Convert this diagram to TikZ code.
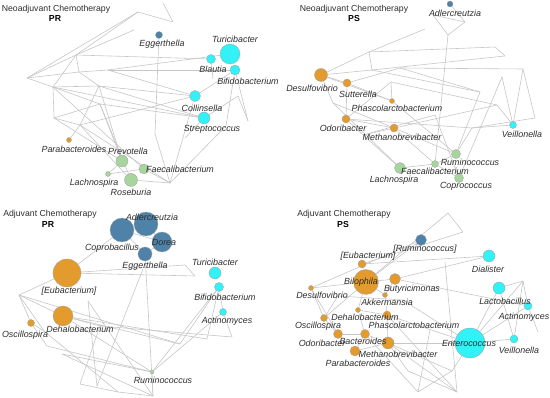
\documentclass[tikz,border=0pt]{standalone}
\usepackage{fontspec}
\setmainfont{Liberation Sans}
\usepackage{xcolor}
\usepackage{tikz}
\usetikzlibrary{positioning,backgrounds}

\definecolor{dkblue}{RGB}{78,130,168}
\definecolor{ochre}{RGB}{228,155,45}
\definecolor{aqua}{RGB}{50,242,248}
\definecolor{sage}{RGB}{168,212,158}
\definecolor{ink}{RGB}{45,45,45}

\begin{document}
\begin{tikzpicture}[x=1pt, y=-1pt,
  edge/.style={draw=gray!45, line width=0.6pt},
  bug/.style={circle, draw=gray!75, line width=0.3pt, inner sep=0pt},
  blu/.style={bug, fill=dkblue},
  org/.style={bug, fill=ochre},
  cya/.style={bug, fill=aqua},
  grn/.style={bug, fill=sage},
  lab/.style={font=\fontsize{8.9}{9}\selectfont\itshape, text=ink, inner sep=0pt},
  ttl/.style={font=\fontsize{8.7}{9}\selectfont, text=ink, inner sep=0pt},
  grp/.style={font=\fontsize{8.7}{9}\selectfont\bfseries, text=black, inner sep=0pt}]
\useasboundingbox (0,0) rectangle (550,398);

% titles
\node[ttl] (t1) at (56,9) {Neoadjuvant Chemotherapy};
\node[grp] (g1) at (55,19) {PR};
\node[ttl] (t2) at (354,9) {Neoadjuvant Chemotherapy};
\node[grp] (g2) at (354,19) {PS};
\node[ttl] (t3) at (50,214) {Adjuvant Chemotherapy};
\node[grp] (g3) at (48,225) {PR};
\node[ttl] (t4) at (344,214) {Adjuvant Chemotherapy};
\node[grp] (g4) at (343,225) {PS};

% neoadjuvant PR
\node[blu, minimum size=7pt] (aEgg) at (159,35) {};
\node[cya, minimum size=20pt] (aTur) at (230,54) {};
\node[cya, minimum size=9pt] (aBla) at (211,59) {};
\node[cya, minimum size=10pt] (aBif) at (235,70) {};
\node[cya, minimum size=11pt] (aCol) at (195,96) {};
\node[cya, minimum size=12pt] (aStr) at (204,118) {};
\node[org, minimum size=5pt] (aPar) at (69,140) {};
\node[grn, minimum size=12pt] (aPre) at (122,161) {};
\node[grn, minimum size=10pt] (aFae) at (144,169) {};
\node[grn, minimum size=5pt] (aLac) at (108,174) {};
\node[grn, minimum size=13pt] (aRos) at (131,180) {};
\foreach \n/\p in {a1/{138,12}, a2/{173,22}, a3/{163,3}, a4/{76,55}, a5/{27,78},
  a6/{53,87}, a7/{79,72}, a8/{134,30}, a9/{99,86}, a10/{54,118}, a11/{100,104},
  a12/{80,125}, a13/{108,70}, a14/{170,183}, a15/{238,96}, a16/{248,121},
  a17/{226,126}, a18/{213,79}, a19/{155,134}, a20/{185,138}}
  \coordinate (\n) at (\p);

\node[lab] (aEggL) at (162,44) {Eggerthella};
\node[lab] (aTurL) at (235,39) {Turicibacter};
\node[lab] (aBlaL) at (213,69) {Blautia};
\node[lab] (aBifL) at (248,81) {Bifidobacterium};
\node[lab] (aColL) at (202,108) {Collinsella};
\node[lab] (aStrL) at (212,129) {Streptococcus};
\node[lab] (aParL) at (74,149) {Parabacteroides};
\node[lab] (aPreL) at (128,151) {Prevotella};
\node[lab] (aFaeL) at (180,169) {Faecalibacterium};
\node[lab] (aLacL) at (94,183) {Lachnospira};
\node[lab] (aRosL) at (131,192) {Roseburia};

% neoadjuvant PS
\node[blu, minimum size=6pt] (bAdl) at (450,4) {};
\node[org, minimum size=13pt] (bDes) at (321,75) {};
\node[org, minimum size=8pt] (bSut) at (347,83) {};
\node[org, minimum size=5pt] (bPha) at (392,101) {};
\node[org, minimum size=8pt] (bOdo) at (346,119) {};
\node[org, minimum size=8pt] (bMet) at (394,128) {};
\node[cya, minimum size=7pt] (bVei) at (513,125) {};
\node[grn, minimum size=9pt] (bRum) at (456,154) {};
\node[grn, minimum size=7pt] (bFae) at (435,164) {};
\node[grn, minimum size=11pt] (bLac) at (400,168) {};
\node[grn, minimum size=9pt] (bCop) at (459,178) {};
\foreach \n/\p in {b1/{369,52}, b2/{372,70}, b3/{425,29}, b4/{433,15}, b5/{465,22},
  b6/{448,35}, b7/{495,47}, b8/{505,56}, b9/{400,68}, b10/{523,69}, b11/{502,77},
  b12/{535,118}, b13/{472,128}, b14/{333,103}, b15/{363,135}, b16/{391,82},
  b17/{480,92}, b18/{497,105}, b20/{435,115}}
  \coordinate (\n) at (\p);

\node[lab] (bAdlL) at (455,13) {Adlercreutzia};
\node[lab] (bDesL) at (312,88) {Desulfovibrio};
\node[lab] (bSutL) at (358,94) {Sutterella};
\node[lab] (bPhaL) at (397,108) {Phascolarctobacterium};
\node[lab] (bOdoL) at (343,128) {Odoribacter};
\node[lab] (bMetL) at (402,137) {Methanobrevibacter};
\node[lab] (bVeiL) at (522,134) {Veillonella};
\node[lab] (bRumL) at (470,162) {Ruminococcus};
\node[lab] (bFaeL) at (435,171) {Faecalibacterium};
\node[lab] (bLacL) at (394,180) {Lachnospira};
\node[lab] (bCopL) at (466,186) {Coprococcus};

% adjuvant PR
\node[blu, minimum size=24pt] (cCop) at (122,230) {};
\node[blu, minimum size=24pt] (cAdl) at (146,224) {};
\node[blu, minimum size=20pt] (cDor) at (162,242) {};
\node[blu, minimum size=14pt] (cEgg) at (145,254) {};
\node[org, minimum size=28pt] (cEub) at (67,273) {};
\node[org, minimum size=20pt] (cDeh) at (63,316) {};
\node[org, minimum size=7pt] (cOsc) at (31,323) {};
\node[cya, minimum size=12pt] (cTur) at (215,273) {};
\node[cya, minimum size=9pt] (cBif) at (219,287) {};
\node[cya, minimum size=7pt] (cAct) at (223,312) {};
\node[grn, minimum size=4pt] (cRum) at (152,372) {};
\foreach \n/\p in {c1/{19,295}, c2/{195,276}, c3/{185,265}, c4/{44,331}, c5/{88,301},
  c6/{100,326}, c7/{62,354}, c8/{207,339}, c9/{232,337}, c10/{180,344},
  c11/{153,396}, c12/{118,392}, c13/{143,269}, c14/{80,384}, c15/{97,386},
  c16/{47,346}}
  \coordinate (\n) at (\p);

\node[lab] (cAdlL) at (152,217) {Adlercreutzia};
\node[lab] (cCopL) at (112,248) {Coprobacillus};
\node[lab] (cDorL) at (164,242) {Dorea};
\node[lab] (cEggL) at (145,266) {Eggerthella};
\node[lab] (cEubL) at (69,291) {[Eubacterium]};
\node[lab] (cDehL) at (80,329) {Dehalobacterium};
\node[lab] (cOscL) at (25,335) {Oscillospira};
\node[lab] (cTurL) at (215,262) {Turicibacter};
\node[lab] (cBifL) at (225,297) {Bifidobacterium};
\node[lab] (cActL) at (227,321) {Actinomyces};
\node[lab] (cRumL) at (163,380) {Ruminococcus};

% adjuvant PS
\node[blu, minimum size=11pt] (dRum) at (421,240) {};
\node[org, minimum size=8pt] (dEub) at (362,264) {};
\node[org, minimum size=25pt] (dBil) at (366,282) {};
\node[org, minimum size=11pt] (dBut) at (395,279) {};
\node[org, minimum size=5pt] (dDes) at (311,288) {};
\node[org, minimum size=5pt] (dAkk) at (385,295) {};
\node[org, minimum size=5pt] (dDeh) at (358,310) {};
\node[org, minimum size=8pt] (dPha) at (387,315) {};
\node[org, minimum size=7pt] (dOsc) at (324,318) {};
\node[org, minimum size=9pt] (dOdo) at (338,334) {};
\node[org, minimum size=9pt] (dBac) at (365,334) {};
\node[org, minimum size=12pt] (dMet) at (388,343) {};
\node[org, minimum size=10pt] (dPar) at (355,351) {};
\node[cya, minimum size=12pt] (dDia) at (489,256) {};
\node[cya, minimum size=12pt] (dLac) at (499,288) {};
\node[cya, minimum size=8pt] (dAct) at (528,306) {};
\node[cya, minimum size=30pt] (dEnt) at (470,343) {};
\node[cya, minimum size=8pt] (dVei) at (514,339) {};
\foreach \n/\p in {d1/{448,213}, d2/{463,232}, d3/{523,281}, d4/{538,332},
  d5/{457,392}, d6/{418,392}, d7/{452,371}, d8/{408,371}, d9/{338,296},
  d10/{445,262}, d11/{430,330}, d12/{403,300}}
  \coordinate (\n) at (\p);

\node[lab] (dRumL) at (425,249) {[Ruminococcus]};
\node[lab] (dEubL) at (368,256) {[Eubacterium]};
\node[lab] (dBilL) at (361,282) {Bilophila};
\node[lab] (dButL) at (412,289) {Butyricimonas};
\node[lab] (dDesL) at (322,295) {Desulfovibrio};
\node[lab] (dAkkL) at (387,302) {Akkermansia};
\node[lab] (dDehL) at (365,317) {Dehalobacterium};
\node[lab] (dPhaL) at (414,325) {Phascolarctobacterium};
\node[lab] (dOscL) at (318,326) {Oscillospira};
\node[lab] (dOdoL) at (322,343) {Odoribacter};
\node[lab] (dBacL) at (363,341) {Bacteroides};
\node[lab] (dMetL) at (398,354) {Methanobrevibacter};
\node[lab] (dParL) at (358,363) {Parabacteroides};
\node[lab] (dDiaL) at (488,269) {Dialister};
\node[lab] (dLacL) at (505,301) {Lactobacillus};
\node[lab] (dActL) at (524,317) {Actinomyces};
\node[lab] (dEntL) at (469,343) {Enterococcus};
\node[lab] (dVeiL) at (519,350) {Veillonella};

% co-occurrence edges
\begin{pgfonlayer}{background}
\foreach \u/\v in {a5/a1, a1/a2, a2/a3, a5/a4, a4/a8, a4/a6, a4/a7, a5/a7, a5/a6,
  a6/a10, a6/a9, a6/a11, a10/a11, a10/a12, a7/a9, a4/aBla, a13/aTur, a13/aCol,
  a9/aCol, a6/aStr, a11/aStr, aPar/a12, aPre/a11, aPre/a9, aRos/a12, aLac/aFae,
  aLac/aPre, aFae/a14, aRos/a14, a14/aCol, a20/aStr, aEgg/a19, a19/a14,
  aBif/a17, aBif/a16, aStr/a15, a15/a16, aBla/a18, aCol/aBif, a6/aFae,
  a12/a14, a11/aRos, a9/a12, a7/a13, a1/a4, a10/aPre, a13/aBif, a9/aStr,
  a12/aCol, a17/a14}
  \draw[edge] (\u) -- (\v);
\foreach \u/\v in {bDes/b1, bDes/b2, b1/b2, b1/b3, b1/b7, b7/b8, b8/b2, b4/b5,
  b4/b6, b5/b6, bAdl/b5, b6/bFae, bDes/bSut, bDes/bPha, bSut/bPha, bSut/bOdo,
  bSut/b9, bOdo/bMet, bOdo/b16, bDes/b14, b14/bMet, b15/bOdo, b15/b20,
  bPha/b16, bMet/bRum, bMet/bFae, bPha/bRum, bLac/b15, bLac/bFae, bFae/bRum,
  bFae/bCop, bRum/b13, b13/b12, bVei/b10, bVei/b11, b10/b12, bVei/b13,
  b11/bCop, b17/bRum, b9/b17, b18/bVei, b16/b18, b14/bLac, b20/bCop,
  b9/b10, b2/b17, bOdo/b13, b15/b18}
  \draw[edge] (\u) -- (\v);
\foreach \u/\v in {cCop/cAdl, cCop/cDor, cCop/cEgg, cAdl/cDor, cDor/cEgg,
  cCop/cEub, cEub/c3, c3/c2, cEub/c2, cEgg/c11, cEub/c1, c1/cOsc, c1/cDeh,
  c1/c4, c4/cOsc, cDeh/c6, cDeh/c10, c5/c15, c6/c14, c7/c11, c16/cRum,
  cRum/c11, cRum/cBif, cRum/cAct, c10/cBif, c8/cBif, c9/cAct, cBif/cAct,
  c12/c11, c14/c12, c4/c12, c7/cRum, c5/c11, cDeh/cRum, cOsc/c16, c6/c9,
  cDeh/c8, c1/c10, c13/c15}
  \draw[edge] (\u) -- (\v);
\foreach \u/\v in {dBil/d1, d1/d2, dEub/d2, dEub/dBil, dEub/dDia, dRum/dBil,
  dBil/dDes, dBil/dBut, dBil/dAkk, dBil/dDeh, dBil/dOsc, dDes/dOsc, dDes/dOdo,
  dBut/dDia, dBut/dAkk, dBut/dAct, dOsc/dOdo, dOdo/dBac, dBac/dMet, dPha/dMet,
  dDeh/dPha, dDeh/dBac, dAkk/dPha, dPar/dBac, dPar/dMet, dMet/d8, dMet/d7,
  dMet/d5, dBac/d6, d8/d5, d7/d6, dEnt/dLac, dEnt/dVei, dEnt/dAct, dEnt/d3,
  dLac/d3, d3/dAct, d3/dVei, dAct/d4, dLac/dVei, dMet/dEnt, dPha/dEnt,
  d10/d5, dOsc/d9, dPha/d5, dEnt/d7, dDes/dRum, d9/d12, d12/dEnt, d11/d6}
  \draw[edge] (\u) -- (\v);
\end{pgfonlayer}
\end{tikzpicture}
\end{document}
